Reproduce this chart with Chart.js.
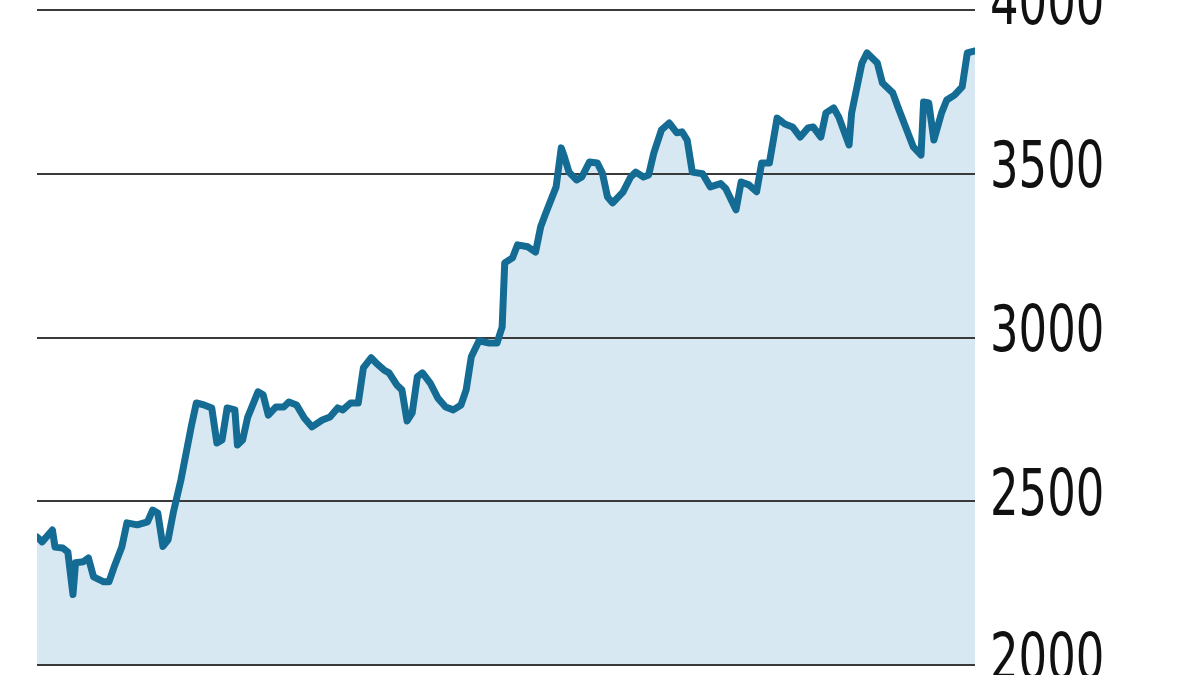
<!DOCTYPE html>
<html>
<head>
<meta charset="utf-8">
<script src="https://cdn.jsdelivr.net/npm/chart.js@4"></script>
<style>
  html, body { margin: 0; padding: 0; background: #fff; overflow: hidden; }
  #wrap { position: absolute; left: 0; top: -60px; width: 1200px; height: 795px; }
</style>
</head>
<body>
<div id="wrap"><canvas id="priceChart"></canvas></div>
<script>
// Day of the year (0-365) and closing level
days = [0, 2, 6, 7, 10, 12, 14, 15, 18, 20, 22, 26, 28, 30, 33, 35, 39, 43, 45, 47,
  49, 51, 53, 56, 60, 62, 65, 68, 70, 72, 74, 77, 78, 80, 82, 86, 88, 90, 93, 96,
  98, 101, 104, 107, 111, 114, 117, 119, 122, 125, 127, 130, 132, 135, 137, 140, 142, 144, 146, 148,
  150, 153, 156, 159, 162, 165, 167, 169, 172, 176, 179, 181, 182, 185, 187, 191, 194, 196, 198, 202,
  204, 205, 207, 210, 212, 215, 218, 220, 222, 224, 228, 231, 233, 236, 238, 240, 243, 246, 249, 251,
  253, 255, 259, 262, 266, 268, 272, 274, 277, 280, 282, 285, 288, 291, 294, 297, 300, 302, 305, 307,
  310, 312, 316, 317, 321, 323, 327, 329, 333, 335, 338, 341, 344, 345, 347, 349, 352, 354, 357, 360,
  362, 365];
values = [2391, 2376, 2412, 2360, 2357, 2345, 2215, 2312, 2315, 2327, 2269, 2254, 2254, 2299, 2360, 2434, 2428, 2437, 2473, 2464,
  2362, 2382, 2464, 2565, 2727, 2800, 2794, 2785, 2678, 2687, 2785, 2779, 2672, 2687, 2757, 2834, 2825, 2763, 2788, 2788,
  2803, 2794, 2754, 2727, 2748, 2757, 2785, 2779, 2800, 2800, 2907, 2938, 2922, 2901, 2892, 2855, 2840, 2745, 2770, 2880,
  2892, 2861, 2815, 2788, 2779, 2794, 2840, 2941, 2990, 2983, 2983, 3032, 3228, 3243, 3283, 3277, 3261, 3338, 3380, 3460,
  3579, 3557, 3505, 3481, 3490, 3536, 3533, 3502, 3429, 3411, 3444, 3490, 3505, 3490, 3496, 3563, 3634, 3655, 3625, 3628,
  3603, 3505, 3500, 3460, 3470, 3455, 3390, 3475, 3466, 3445, 3533, 3533, 3670, 3652, 3643, 3612, 3640, 3643, 3612, 3686,
  3701, 3673, 3588, 3686, 3838, 3869, 3838, 3777, 3747, 3704, 3643, 3582, 3557, 3719, 3716, 3603, 3686, 3725, 3740, 3765,
  3869, 3875];
yTicks = [2000, 2500, 3000, 3500, 4000];

points = days.map((d, i) => ({ x: d, y: values[i] }));

// Grid again on top of the fill (under the line), and narrower tick labels
chartTweaks = {
    id: 'chartTweaks',
    beforeDraw(chart) {
        const y = chart.scales.y;
        if (y._narrowed) return;
        const orig = y.drawLabels.bind(y);
        y.drawLabels = function (area) {
            const ctx = chart.ctx;
            const x0 = y.left + y.options.ticks.padding;
            ctx.save();
            ctx.translate(x0, 0);
            ctx.scale(0.78, 1);
            ctx.translate(-x0, 0);
            orig(area);
            ctx.restore();
        };
        y._narrowed = true;
    },
    afterDatasetDraw(chart, args) {
        if (args.index === 1) {
            chart.scales.y.drawGrid(chart.chartArea);
        }
    }
};

new Chart(document.getElementById('priceChart'), {
    type: 'line',
    data: {
        datasets: [
            {
                data: points,
                borderColor: '#146b93',
                borderWidth: 7,
                borderJoinStyle: 'round',
                borderCapStyle: 'round',
                pointRadius: 0,
                tension: 0,
                fill: false
            },
            {
                data: points,
                borderWidth: 0,
                borderColor: 'rgba(0,0,0,0)',
                backgroundColor: '#d7e8f2',
                pointRadius: 0,
                tension: 0,
                fill: 'start'
            }
        ]
    },
    options: {
        responsive: true,
        maintainAspectRatio: false,
        animation: false,
        events: [],
        layout: { padding: { top: 70, bottom: 70, left: 37, right: 0 } },
        plugins: {
            legend: { display: false },
            tooltip: { enabled: false }
        },
        scales: {
            x: {
                type: 'linear',
                min: 0,
                max: 365,
                display: false
            },
            y: {
                position: 'right',
                min: 2000,
                max: 4000,
                afterBuildTicks: (scale) => {
                    scale.ticks = yTicks.map(v => ({ value: v }));
                },
                afterFit: (scale) => { scale.width = 225; },
                border: { display: false },
                grid: {
                    color: '#3a3a3a',
                    lineWidth: 2,
                    drawTicks: false
                },
                ticks: {
                    padding: 15,
                    labelOffset: -3,
                    color: '#111',
                    font: { family: "'Liberation Sans Narrow', 'DejaVu Sans Condensed', sans-serif", size: 64 },
                    callback: (v) => String(v)
                }
            }
        }
    },
    plugins: [chartTweaks]
});
</script>
</body>
</html>
